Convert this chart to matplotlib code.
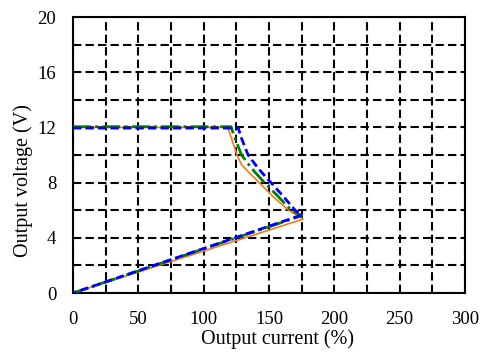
import matplotlib
matplotlib.use("Agg")
import matplotlib.pyplot as plt
from matplotlib.ticker import MultipleLocator

# Output characteristic curves (current %, voltage V)
orange_x = [0, 118.5, 122, 125.5, 129, 135, 142, 153, 165, 176, 0]
orange_y = [12, 12, 11.0, 10.0, 9.3, 8.7, 8.05, 7.0, 6.0, 5.35, 0]
green_x = [0, 121, 124, 129, 137, 146, 157, 167, 175, 0]
green_y = [12.05, 12.05, 11.2, 10.0, 9.0, 8.05, 7.0, 6.0, 5.6, 0]
blue_x = [0, 126.5, 129, 134, 142, 151, 161, 170, 175, 0]
blue_y = [11.95, 11.95, 11.2, 10.0, 9.0, 8.05, 7.0, 6.0, 5.65, 0]

x_ticks = [0, 50, 100, 150, 200, 250, 300]
y_ticks = [0, 4, 8, 12, 16, 20]

plt.rcParams['font.family'] = ['Liberation Serif', 'DejaVu Serif']

fig = plt.figure(figsize=(4.84, 3.52), dpi=100)
ax = fig.add_axes([0.1508, 0.1676, 0.8099, 0.7841])

ax.plot(orange_x, orange_y, color='#F47A20', lw=1.2, zorder=3)
ax.plot(green_x, green_y, color='#007F00', lw=2.0, linestyle='-.', zorder=4)
ax.plot(blue_x, blue_y, color='#0000FF', lw=2.0, linestyle=(0, (3, 1.5)), zorder=5)

ax.set_xlim(0, 300)
ax.set_ylim(0, 20)
ax.set_xticks(x_ticks)
ax.set_yticks(y_ticks)
ax.xaxis.set_minor_locator(MultipleLocator(25))
ax.yaxis.set_minor_locator(MultipleLocator(2))
ax.grid(True, which='both', color='black', lw=1.5, linestyle=(0, (4, 2)))
ax.tick_params(which='both', length=0, labelsize=13.5)
ax.tick_params(axis='x', pad=13)
ax.tick_params(axis='y', pad=12)

for s in ax.spines.values():
    s.set_linewidth(1.5)
    s.set_color('black')

ax.set_xlabel('Output current (%)', fontsize=14.5)
ax.set_ylabel('Output voltage (V)', fontsize=14.5)
ax.xaxis.set_label_coords(0.523, -0.13)
ax.yaxis.set_label_coords(-0.102, 0.409)

fig.savefig('out.png', dpi=100)
